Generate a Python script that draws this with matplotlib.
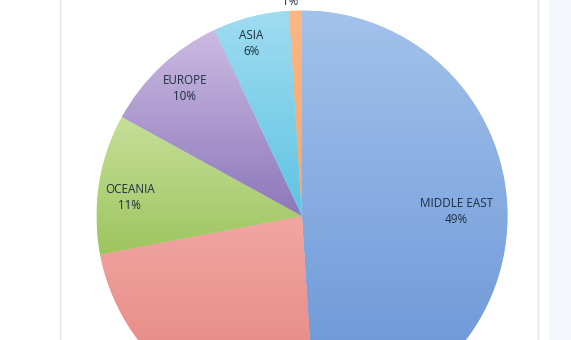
import numpy as np
import matplotlib
matplotlib.use("Agg")
import matplotlib.pyplot as plt
from matplotlib.colors import to_rgb
from matplotlib.lines import Line2D
from matplotlib.patches import Rectangle

# data (clockwise from 12 o'clock)
regions = ["MIDDLE EAST", "", "OCEANIA", "EUROPE", "ASIA", ""]
shares = [49, 23, 11, 10, 6, 1]
pct_labels = ["49%", "", "11%", "10%", "6%", "1%"]
top_colors = ["#a3c2ec", "#f2a6a2", "#c6df98", "#cbbbe2", "#a0dcf0", "#fbb785"]
bot_colors = ["#6592d4", "#e27f7b", "#9dc55f", "#8d77bb", "#5ec4e4", "#f4a56c"]
label_dist = [0.75, 0.85, 0.842, 0.843, 0.873, 1.045]
label_rot = [-0.3, 0.0, 3.0, -0.6, 2.0, 1.5]

W, H = 571, 340
fig = plt.figure(figsize=(W / 100, H / 100), dpi=100)
fig.patch.set_facecolor("white")

# page decoration
fig.add_artist(Rectangle((549 / W, 0), (W - 549) / W, 1, transform=fig.transFigure,
                         facecolor="#f3f6fa", edgecolor="none", zorder=0))
fig.add_artist(Line2D([59.5 / W, 59.5 / W], [0, 1], transform=fig.transFigure,
                      color="#e4e4e4", lw=1.0))
fig.add_artist(Line2D([537.5 / W, 537.5 / W], [0, 1], transform=fig.transFigure,
                      color="#e8e8e8", lw=1.0))

cx, cy, r = 302.0, 216.0, 205.5
ax = fig.add_axes([(cx - r) / W, (H - cy - r) / H, 2 * r / W, 2 * r / H])
ax.set_xlim(-1, 1)
ax.set_ylim(-1, 1)
ax.set_aspect("equal")
ax.axis("off")

wedges, _ = ax.pie(shares, colors=top_colors, startangle=90, counterclock=False,
                   radius=1.0, wedgeprops=dict(linewidth=0))

for w, c1, c2 in zip(wedges, top_colors, bot_colors):
    verts = w.get_path().vertices
    x0, x1 = verts[:, 0].min(), verts[:, 0].max()
    y0, y1 = verts[:, 1].min(), verts[:, 1].max()
    t = np.linspace(0, 1, 200)[:, None]
    a, b = np.array(to_rgb(c1)), np.array(to_rgb(c2))
    grad = (a[None, :] * (1 - t) + b[None, :] * t)[:, None, :]
    im = ax.imshow(grad, extent=[x0, x1, y0, y1], origin="upper", aspect="auto",
                   interpolation="bilinear", zorder=1)
    im.set_clip_path(w)

ax.set_xlim(-1, 1)
ax.set_ylim(-1, 1)

for w, name, pct, d, rot in zip(wedges, regions, pct_labels, label_dist, label_rot):
    if not pct:
        continue
    ang = np.deg2rad((w.theta1 + w.theta2) / 2 + rot)
    x, y = d * np.cos(ang), d * np.sin(ang)
    txt = f"{name}\n{pct}" if name else pct
    ax.text(x, y, txt, ha="center", va="center", fontsize=8.4,
            family=["Open Sans", "DejaVu Sans"], color="#1f2e40",
            linespacing=1.3, zorder=3, clip_on=False)

fig.savefig("out.png", dpi=100)
